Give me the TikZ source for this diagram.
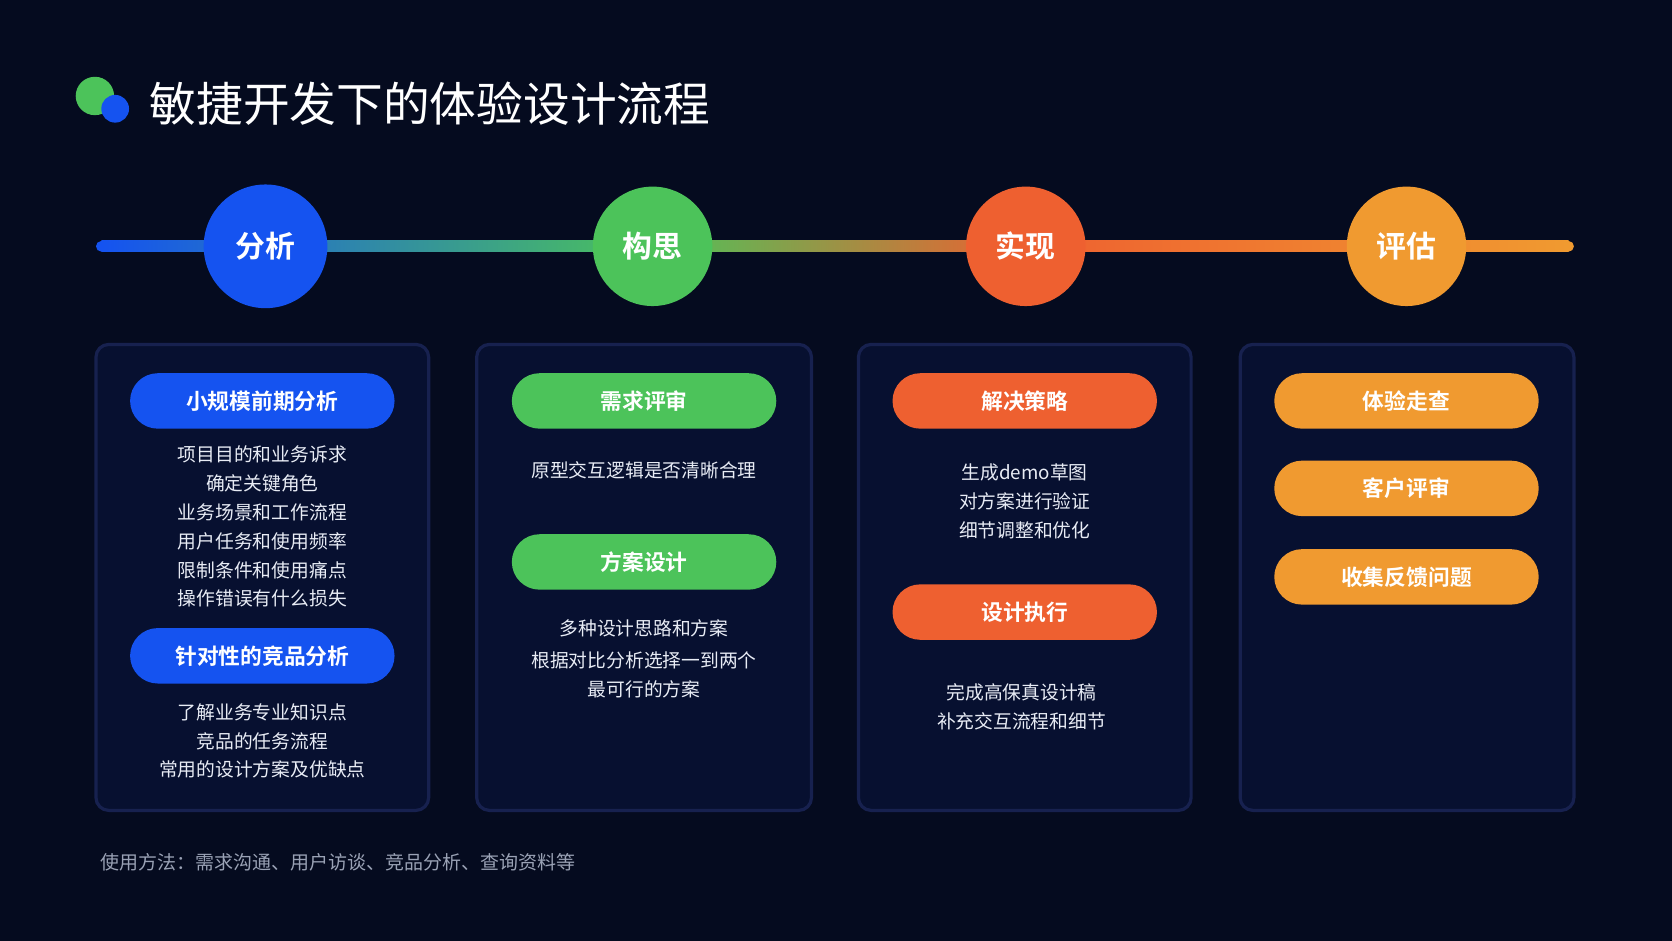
\documentclass[tikz,border=0pt]{standalone}
\usepackage{fontspec}
\setmainfont{Noto Sans CJK SC}
\newfontfamily\cjkb{Noto Sans CJK SC Bold}
\definecolor{bg}{HTML}{050B1F}
\definecolor{boxf}{HTML}{071030}
\definecolor{boxd}{HTML}{17214F}
\definecolor{cb}{HTML}{1553F0}
\definecolor{cg}{HTML}{4CC35A}
\definecolor{cr}{HTML}{EE6030}
\definecolor{co}{HTML}{F09A30}
\definecolor{txt}{HTML}{E8ECF5}
\definecolor{foot}{HTML}{9AA2B5}
\tikzset{
 panel/.style={draw=boxd,line width=1.5pt,fill=boxf,rounded corners=6pt},
 pill/.style={fill=#1,rounded corners=13pt,minimum width=124pt,minimum height=26pt,text=white,font=\cjkb\fontsize{10.2}{12}\selectfont,inner sep=0pt},
 body/.style={text=txt,font=\fontsize{8.8}{13.5}\selectfont,align=center,inner sep=0pt},
}
\begin{document}
\begin{tikzpicture}[x=0.5pt,y=-0.5pt]
\fill[bg] (0,0) rectangle (1568,882);
\useasboundingbox (0,0) rectangle (1568,882);
% title
\fill[cg] (89,90) circle (18);
\fill[cb] (108,102) circle (13);
\node[anchor=west,text=white,font=\fontsize{21.9}{24}\selectfont,inner sep=0pt] (title) at (140,97) {敏捷开发下的体验设计流程};
% timeline
\fill[cb] (95,231) circle (5);
\fill[co] (1471,231) circle (5);
\shade[left color=cb,right color=cg] (95,226) rectangle (612,236);
\shade[left color=cg,right color=cr] (612,226) rectangle (962,236);
\shade[left color=cr,right color=co] (962,226) rectangle (1471,236);
\node[circle,fill=cb,minimum size=58pt,text=white,font=\cjkb\fontsize{14}{16}\selectfont] (c1) at (249,231) {分析};
\node[circle,fill=cg,minimum size=56pt,text=white,font=\cjkb\fontsize{14}{16}\selectfont] (c2) at (612,231) {构思};
\node[circle,fill=cr,minimum size=56pt,text=white,font=\cjkb\fontsize{14}{16}\selectfont] (c3) at (962,231) {实现};
\node[circle,fill=co,minimum size=56pt,text=white,font=\cjkb\fontsize{14}{16}\selectfont] (c4) at (1319,231) {评估};
% panels
\draw[panel] (90,323) rectangle (402,760);
\draw[panel] (447,323) rectangle (761,760);
\draw[panel] (805,323) rectangle (1117,760);
\draw[panel] (1163,323) rectangle (1476,760);
% pills
\node[pill=cb] (p1) at (246,376) {小规模前期分析};
\node[pill=cb] (p2) at (246,615) {针对性的竞品分析};
\node[pill=cg] (p3) at (604,376) {需求评审};
\node[pill=cg] (p4) at (604,527) {方案设计};
\node[pill=cr] (p5) at (961,376) {解决策略};
\node[pill=cr] (p6) at (961,574) {设计执行};
\node[pill=co] (p7) at (1319,376) {体验走查};
\node[pill=co] (p8) at (1319,458) {客户评审};
\node[pill=co] (p9) at (1319,541) {收集反馈问题};
% texts
\node[body] (t1) at (246,494) {项目目的和业务诉求\\确定关键角色\\业务场景和工作流程\\用户任务和使用频率\\限制条件和使用痛点\\操作错误有什么损失};
\node[body] (t2) at (246,695) {了解业务专业知识点\\竞品的任务流程\\常用的设计方案及优缺点};
\node[body] (t3) at (604,441) {原型交互逻辑是否清晰合理};
\node[body] (t4) at (604,589) {多种设计思路和方案};
\node[body] (t5) at (604,633) {根据对比分析选择一到两个\\最可行的方案};
\node[body] (t6) at (961,470) {生成demo草图\\对方案进行验证\\细节调整和优化};
\node[body] (t7) at (958,663) {完成高保真设计稿\\补充交互流程和细节};
\node[anchor=west,text=foot,font=\fontsize{8.9}{10}\selectfont,inner sep=0pt] (ft) at (94,809) {使用方法：需求沟通、用户访谈、竞品分析、查询资料等};
\end{tikzpicture}
\end{document}
